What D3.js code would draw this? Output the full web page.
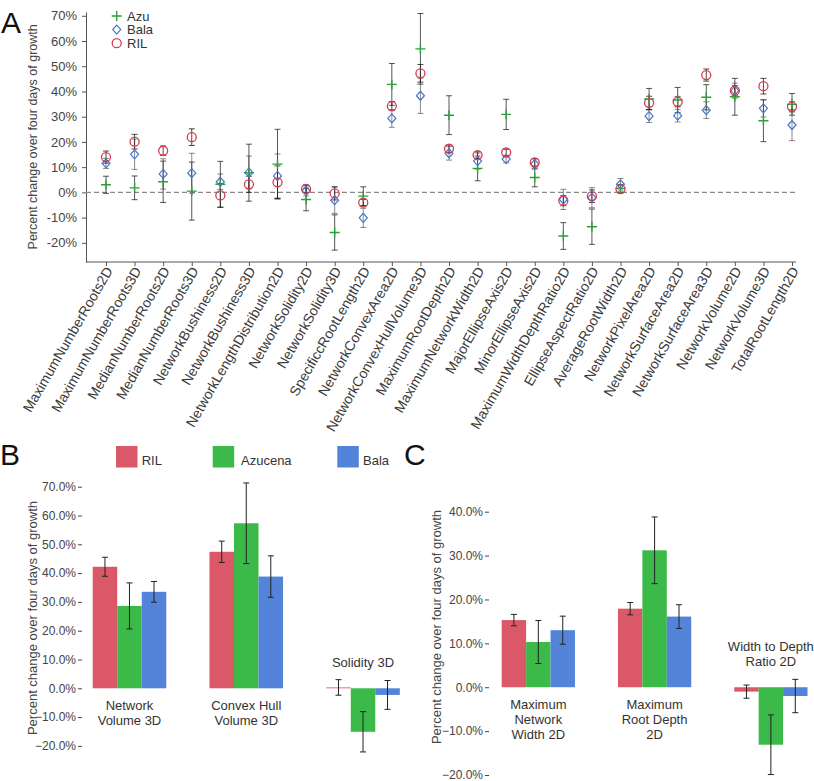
<!DOCTYPE html>
<html><head><meta charset="utf-8">
<script src="https://cdn.jsdelivr.net/npm/d3@7"></script>
<style>
body{margin:0;background:#fff;}
svg{display:block;font-family:"Liberation Sans",Arial,Helvetica,sans-serif;}
</style></head>
<body><svg id="c" width="814" height="781"></svg>
<script>
// ---------- Panel A data ----------
const categoriesA = ["MaximumNumberRoots2D","MaximumNumberRoots3D","MedianNumberRoots2D","MedianNumberRoots3D","NetworkBushiness2D","NetworkBushiness3D","NetworkLengthDistribution2D","NetworkSolidity2D","NetworkSolidity3D","SpecificcRootLength2D","NetworkConvexArea2D","NetworkConvexHullVolume3D","MaximumRootDepth2D","MaximumNetworkWidth2D","MajorEllipseAxis2D","MinorEllipseAxis2D","MaximumWidthDepthRatio2D","EllipseAspectRatio2D","AverageRootWidth2D","NetworkPixelArea2D","NetworkSurfaceArea2D","NetworkSurfaceArea3D","NetworkVolume2D","NetworkVolume3D","TotalRootLength2D"];
const rilA    = [14.0,20.1,16.5,21.9,-1.2,3.2,4.0,1.4,-0.4,-4.1,34.2,47.2,17.3,14.8,15.8,11.9,-3.3,-1.5,1.3,35.5,35.9,46.5,40.3,42.1,33.9];
const rilErrA = [2.4,2.9,1.9,3.3,4.7,3.2,6.5,1.5,2.6,1.3,1.8,3.5,1.5,1.3,1.3,1.5,2.0,2.5,1.5,2.6,2.0,2.4,2.0,3.1,2.0];
const balaA    = [11.5,15.1,7.3,7.6,4.2,7.9,6.5,0.6,-3.1,-10.1,29.3,38.3,15.5,12.4,13.2,11.2,-2.8,-2.1,3.2,30.2,30.4,32.6,40.3,33.3,26.7];
const balaErrA = [2.0,6.0,6.0,7.9,3.1,6.5,8.7,2.0,5.2,3.8,3.5,7.0,2.7,3.2,1.5,2.0,4.0,4.0,2.3,2.5,2.5,3.3,3.0,3.4,6.2];
const azuA    = [3.0,1.8,4.2,0.5,3.2,7.8,11.2,-2.8,-15.9,-1.5,42.8,56.9,30.6,9.5,30.9,5.9,-17.3,-13.6,1.6,37.0,36.6,37.7,37.9,28.4,34.9];
const azuErrA = [3.4,4.7,8.2,11.5,9.1,11.3,13.8,4.5,7.0,3.7,8.3,14.0,7.7,4.9,6.0,3.7,5.3,7.0,1.5,4.2,5.0,5.0,7.3,8.3,4.3];
const yTicksA = [-20,-10,0,10,20,30,40,50,60,70];
const legendA = ["Azu","Bala","RIL"];

// ---------- Panel B data ----------
const groupsB = [["Network","Volume 3D"],["Convex Hull","Volume 3D"],["Solidity 3D"]];
const rilB = [42.2,47.4,0.3],  rilErrB = [3.3,3.7,2.7];
const azuB = [28.6,57.3,-15.1], azuErrB = [8.0,14.0,7.0];
const balaB = [33.5,38.8,-2.3], balaErrB = [3.6,7.2,5.0];
const yTicksB = [-20,-10,0,10,20,30,40,50,60,70];

// ---------- Panel C data ----------
const groupsC = [["Maximum","Network","Width 2D"],["Maximum","Root Depth","2D"],["Width to Depth","Ratio 2D"]];
const rilC = [15.3,17.9,-1.0],  rilErrC = [1.3,1.4,1.5];
const azuC = [10.3,31.2,-13.1], azuErrC = [4.9,7.6,6.8];
const balaC = [13.0,16.1,-2.0], balaErrC = [3.2,2.7,3.8];
const yTicksC = [-20,-10,0,10,20,30,40];

const seriesBar = ["RIL","Azucena","Bala"];
const barColors = {RIL:"#db5868", Azucena:"#3bb949", Bala:"#5384d9"};
const ptColors = {Azu:"#2e9e3a", Bala:"#4a74cc", RIL:"#d63c4e"};

const svg = d3.select("#c");

// ================= Panel A =================
const xA = d3.scalePoint().domain(categoriesA).range([106, 792]);
const yA = d3.scaleLinear().domain([-27.6, 71.5]).range([262, 12]);

const gA = svg.append("g");
const axA = gA.append("g").attr("transform","translate(86,0)")
  .call(d3.axisLeft(yA).tickValues(yTicksA).tickFormat(d=>d+"%").tickSize(4).tickPadding(5).tickSizeOuter(0));
axA.select(".domain").attr("stroke","#555");
axA.selectAll(".tick line").attr("stroke","#555");
axA.selectAll("text").attr("font-size","13px").attr("fill","#444").attr("font-family","Liberation Sans, Arial, sans-serif");
const axX = gA.append("g").attr("transform","translate(0,262)")
  .call(d3.axisBottom(xA).tickSize(4).tickSizeOuter(0).tickFormat(""));
axX.select(".domain").attr("d","M86,0H796").attr("stroke","#555");
axX.selectAll(".tick line").attr("stroke","#555");
gA.append("g").selectAll("text").data(categoriesA).join("text")
  .attr("transform",d=>`translate(${xA(d)+3},${268}) rotate(-60)`)
  .attr("text-anchor","end").attr("dy","0.35em")
  .attr("font-size","14px").attr("fill","#3a3a3a").text(d=>d);
gA.append("line").attr("x1",86).attr("x2",796).attr("y1",yA(0)).attr("y2",yA(0))
  .attr("stroke","#888").attr("stroke-width",1.2).attr("stroke-dasharray","5,3");
gA.append("text").attr("transform",`translate(37,${yA(22)}) rotate(-90)`)
  .attr("text-anchor","middle").attr("font-size","12.5px").attr("fill","#444")
  .text("Percent change over four days of growth");

function errA(vals, errs, color){
  const g = gA.append("g").attr("stroke",color).attr("stroke-width",1).attr("fill","none");
  categoriesA.forEach((c,i)=>{
    const x = xA(c), y1 = yA(vals[i]+errs[i]), y2 = yA(vals[i]-errs[i]);
    g.append("path").attr("d",`M${x},${y1}V${y2}M${x-3},${y1}H${x+3}M${x-3},${y2}H${x+3}`);
  });
}
errA(azuA, azuErrA, "rgba(30,30,30,0.75)");
errA(balaA, balaErrA, "rgba(60,60,60,0.6)");
errA(rilA, rilErrA, "rgba(30,30,30,0.8)");

const mk = gA.append("g").attr("fill","none");
mk.selectAll(".azu").data(categoriesA).join("path")
  .attr("d",(d,i)=>{const x=xA(d),y=yA(azuA[i]);return `M${x-5},${y}H${x+5}M${x},${y-5}V${y+5}`;})
  .attr("stroke",ptColors.Azu).attr("stroke-width",1.4);
mk.selectAll(".bala").data(categoriesA).join("path")
  .attr("d",(d,i)=>{const x=xA(d),y=yA(balaA[i]);return `M${x},${y-4.5}L${x+4},${y}L${x},${y+4.5}L${x-4},${y}Z`;})
  .attr("stroke",ptColors.Bala).attr("stroke-width",1.2);
mk.selectAll(".ril").data(categoriesA).join("circle")
  .attr("cx",d=>xA(d)).attr("cy",(d,i)=>yA(rilA[i])).attr("r",4.5)
  .attr("stroke",ptColors.RIL).attr("stroke-width",1.3);

const lgA = gA.append("g");
legendA.forEach((s,i)=>{
  const x=116.7, y=16+i*13.6;
  if(s==="Azu") lgA.append("path").attr("d",`M${x-5},${y}H${x+5}M${x},${y-5}V${y+5}`).attr("stroke",ptColors.Azu).attr("stroke-width",1.4);
  if(s==="Bala") lgA.append("path").attr("d",`M${x},${y-4.5}L${x+4},${y}L${x},${y+4.5}L${x-4},${y}Z`).attr("fill","none").attr("stroke",ptColors.Bala).attr("stroke-width",1.2);
  if(s==="RIL") lgA.append("circle").attr("cx",x).attr("cy",y).attr("r",4.5).attr("fill","none").attr("stroke",ptColors.RIL).attr("stroke-width",1.3);
  lgA.append("text").attr("x",127).attr("y",y+4.5).attr("font-size","13px").attr("fill","#333").text(s);
});

svg.append("text").attr("x",1).attr("y",33).attr("font-size","30px").attr("fill","#111").text("A");
svg.append("text").attr("x",0).attr("y",465).attr("font-size","30px").attr("fill","#111").text("B");
svg.append("text").attr("x",404).attr("y",465).attr("font-size","30px").attr("fill","#111").text("C");

seriesBar.forEach((s,i)=>{
  const xs=[116,212.7,337.3][i], xt=[141.7,241,363][i];
  svg.append("rect").attr("x",xs).attr("y",446).attr("width",21.5).attr("height",21.5).attr("fill",barColors[s]);
  svg.append("text").attr("x",xt).attr("y",465).attr("font-size","13px").attr("fill","#333").text(s);
});

// ================= Bar panels =================
function barPanel(opts){
  const {groups, ril, rilE, azu, azuE, bala, balaE, yDomain, yRange, ticks, xRange, axisX, labelX, labelY} = opts;
  const g = svg.append("g");
  const y = d3.scaleLinear().domain(yDomain).range(yRange);
  const xg = d3.scaleBand().domain(d3.range(groups.length)).range(xRange).paddingInner(0.37).paddingOuter(0);
  const xs = d3.scaleBand().domain(seriesBar).range([0, xg.bandwidth()]);
  const ax = g.append("g").attr("transform",`translate(${axisX},0)`)
    .call(d3.axisLeft(y).tickValues(ticks).tickFormat(d=>d3.format(".1f")(d)+"%").tickSize(4).tickPadding(2));
  ax.select(".domain").remove();
  ax.selectAll(".tick line").attr("stroke","#444");
  ax.selectAll("text").attr("font-size","12px").attr("fill","#444").attr("font-family","Liberation Sans, Arial, sans-serif");
  g.append("text").attr("transform",`translate(${labelX},${labelY}) rotate(-90)`)
    .attr("text-anchor","middle").attr("font-size","13px").attr("fill","#444")
    .text("Percent change over four days of growth");
  const data = {RIL:[ril,rilE], Azucena:[azu,azuE], Bala:[bala,balaE]};
  groups.forEach((lines,i)=>{
    seriesBar.forEach(s=>{
      const v = data[s][0][i], e = data[s][1][i];
      const x0 = xg(i)+xs(s), w = xs.bandwidth();
      g.append("rect").attr("x",x0).attr("width",w)
        .attr("y",y(Math.max(0,v))).attr("height",Math.max(0.8,Math.abs(y(v)-y(0))))
        .attr("fill",barColors[s]);
      const cx = x0+w/2, y1=y(v+e), y2=y(v-e);
      g.append("path").attr("d",`M${cx},${y1}V${y2}M${cx-3},${y1}H${cx+3}M${cx-3},${y2}H${cx+3}`)
        .attr("stroke","#222").attr("stroke-width",1).attr("fill","none");
    });
    const vals = seriesBar.map(s=>data[s][0][i]);
    const cx = xg(i)+xg.bandwidth()/2;
    const t = g.append("text").attr("text-anchor","middle").attr("font-size","13px").attr("fill","#333");
    let y0;
    if (d3.min(vals) >= 0) {
      y0 = y(0)+22;
    } else {
      const top = d3.max(seriesBar.map(s=>data[s][0][i]+data[s][1][i]));
      y0 = y(top) - 13 - (lines.length-1)*15;
    }
    lines.forEach((ln,k)=>t.append("tspan").attr("x",cx).attr("y",y0+k*15).text(ln));
  });
}

barPanel({groups:groupsB, ril:rilB, rilE:rilErrB, azu:azuB, azuE:azuErrB, bala:balaB, balaE:balaErrB,
  yDomain:[-20,70], yRange:[745.9,486.7], ticks:yTicksB, xRange:[92.7,399.8], axisX:82, labelX:37, labelY:618});
barPanel({groups:groupsC, ril:rilC, rilE:rilErrC, azu:azuC, azuE:azuErrC, bala:balaC, balaE:balaErrC,
  yDomain:[-20,40], yRange:[775,511.7], ticks:yTicksC, xRange:[501.7,807.5], axisX:489, labelX:441, labelY:627});
</script>
</body></html>
